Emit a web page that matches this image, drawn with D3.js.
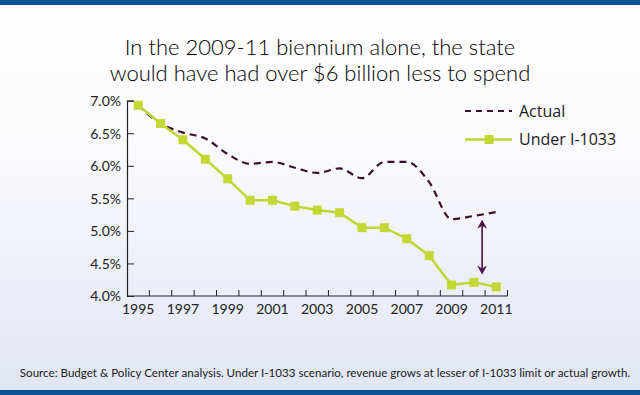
<!DOCTYPE html>
<html>
<head>
<meta charset="utf-8">
<script src="https://cdn.jsdelivr.net/npm/d3@7"></script>
<style>
  html, body { margin: 0; padding: 0; }
  body { width: 640px; height: 395px; overflow: hidden; }
</style>
</head>
<body>
<div id="vis-container"></div>
<script>
// revenue as share of personal income, 1995-2011
let years = d3.range(1995, 2012);
let actual = [6.93, 6.65, 6.51, 6.42, 6.18, 6.03, 6.06, 5.97, 5.89, 5.96, 5.81, 6.06, 6.06, 5.75, 5.18, 5.23, 5.29];
let underI1033 = [6.93, 6.65, 6.40, 6.10, 5.80, 5.47, 5.47, 5.38, 5.32, 5.28, 5.05, 5.05, 4.88, 4.62, 4.17, 4.21, 4.14];
let yTicks = [4.0, 4.5, 5.0, 5.5, 6.0, 6.5, 7.0];
let xLabels = [1995, 1997, 1999, 2001, 2003, 2005, 2007, 2009, 2011];
let gapArrow = [5.17, 4.33];   // the 2009-11 gap marker

let width = 640;
let height = 395;

let svg = d3.select("#vis-container")
  .append("svg")
  .attr("width", width)
  .attr("height", height);

// background
let defs = svg.append("defs");
let grad = defs.append("linearGradient")
  .attr("id", "bg")
  .attr("x1", 0).attr("y1", 0).attr("x2", 0).attr("y2", 1);
grad.append("stop").attr("offset", "0%").attr("stop-color", "#ffffff");
grad.append("stop").attr("offset", "35%").attr("stop-color", "#fbfbfd");
grad.append("stop").attr("offset", "100%").attr("stop-color", "#e1e5f3");

svg.append("rect").attr("width", width).attr("height", height).attr("fill", "url(#bg)");
svg.append("rect").attr("width", width).attr("height", 5).attr("fill", "#0b5394");
svg.append("rect").attr("y", 390).attr("width", width).attr("height", 5).attr("fill", "#0b5394");

// title
let title = svg.append("text")
  .attr("text-anchor", "middle")
  .attr("font-family", "Lato, sans-serif")
  .attr("font-weight", 300)
  .attr("font-size", 22)
  .attr("fill", "#000");
title.append("tspan").attr("x", 320).attr("y", 55).text("In the 2009-11 biennium alone, the state");
title.append("tspan").attr("x", 320).attr("y", 81).text("would have had over $6 billion less to spend");

// scales
let x = d3.scaleBand()
  .domain(years)
  .range([127, 507.5]);

let y = d3.scaleLinear()
  .domain([4.0, 7.0])
  .range([296, 100.7]);

let cx = d => x(d) + x.bandwidth() / 2;

// y axis
let yAxis = d3.axisLeft(y)
  .tickValues(yTicks)
  .tickSize(-7)
  .tickPadding(6)
  .tickFormat(d => d.toFixed(1) + "%");

let gy = svg.append("g")
  .attr("transform", "translate(127,0)")
  .call(yAxis);
gy.select(".domain").attr("stroke", "#222").attr("stroke-width", 1.2);
gy.selectAll(".tick line").attr("stroke", "#222");
gy.selectAll(".tick text")
  .attr("font-family", "Lato, sans-serif")
  .attr("font-size", 14)
  .attr("fill", "#222")
  .attr("x", -6)
  .attr("dy", "0.35em");

// x axis: ticks on band edges, labels on odd years
let xAxisLine = svg.append("g");
xAxisLine.append("line")
  .attr("x1", 127).attr("x2", 507.5)
  .attr("y1", 296).attr("y2", 296)
  .attr("stroke", "#222").attr("stroke-width", 1.2);
xAxisLine.selectAll("line.tk")
  .data(years.slice(1).concat([2012]))
  .enter()
  .append("line")
  .attr("class", "tk")
  .attr("x1", d => d === 2012 ? 507.5 : x(d))
  .attr("x2", d => d === 2012 ? 507.5 : x(d))
  .attr("y1", 296).attr("y2", 290)
  .attr("stroke", "#222");
xAxisLine.selectAll("text")
  .data(xLabels)
  .enter()
  .append("text")
  .attr("x", d => cx(d))
  .attr("y", 314)
  .attr("text-anchor", "middle")
  .attr("font-family", "Lato, sans-serif")
  .attr("font-size", 14)
  .attr("fill", "#222")
  .text(d => d);

// lines
let actualLine = d3.line()
  .x((d, i) => cx(years[i]))
  .y(d => y(d))
  .curve(d3.curveMonotoneX);

let i1033Line = d3.line()
  .x((d, i) => cx(years[i]))
  .y(d => y(d));

svg.append("path")
  .datum(actual)
  .attr("d", actualLine)
  .attr("fill", "none")
  .attr("stroke", "#3b0f30")
  .attr("stroke-width", 2.2)
  .attr("stroke-dasharray", "7,5");

svg.append("path")
  .datum(underI1033)
  .attr("d", i1033Line)
  .attr("fill", "none")
  .attr("stroke", "#bfd630")
  .attr("stroke-width", 2.5);

svg.selectAll("rect.pt")
  .data(underI1033)
  .enter()
  .append("rect")
  .attr("class", "pt")
  .attr("x", (d, i) => cx(years[i]) - 4.5)
  .attr("y", d => y(d) - 4.5)
  .attr("width", 9)
  .attr("height", 9)
  .attr("fill", "#c3d735");

// double arrow marking the gap
let ax = (cx(2010) + cx(2011)) / 2 - 3;
let arrowColor = "#4a1043";
svg.append("line")
  .attr("x1", ax).attr("x2", ax)
  .attr("y1", y(gapArrow[0]) + 6).attr("y2", y(gapArrow[1]) - 6)
  .attr("stroke", arrowColor).attr("stroke-width", 1.6);
let ya = y(gapArrow[0]), yb = y(gapArrow[1]);
svg.append("path")
  .attr("d", `M${ax},${ya} L${ax - 5},${ya + 9} L${ax},${ya + 6} L${ax + 5},${ya + 9} Z`)
  .attr("fill", arrowColor);
svg.append("path")
  .attr("d", `M${ax},${yb} L${ax - 5},${yb - 9} L${ax},${yb - 6} L${ax + 5},${yb - 9} Z`)
  .attr("fill", arrowColor);

// legend
let legend = svg.append("g");
legend.append("line")
  .attr("x1", 465).attr("x2", 512)
  .attr("y1", 111).attr("y2", 111)
  .attr("stroke", "#3b0f30").attr("stroke-width", 2.2)
  .attr("stroke-dasharray", "6,5");
legend.append("text")
  .attr("x", 519).attr("y", 111).attr("dy", "0.35em")
  .attr("font-family", "'Open Sans', sans-serif")
  .attr("font-size", 16)
  .attr("fill", "#222")
  .text("Actual");
legend.append("line")
  .attr("x1", 465).attr("x2", 512)
  .attr("y1", 139.5).attr("y2", 139.5)
  .attr("stroke", "#bfd630").attr("stroke-width", 2.5);
legend.append("rect")
  .attr("x", 484.5).attr("y", 135).attr("width", 9).attr("height", 9)
  .attr("fill", "#c3d735");
legend.append("text")
  .attr("x", 519).attr("y", 139.5).attr("dy", "0.35em")
  .attr("font-family", "'Open Sans', sans-serif")
  .attr("font-size", 16)
  .attr("fill", "#222")
  .text("Under I-1033");

// source note
svg.append("text")
  .attr("x", 325).attr("y", 377)
  .attr("text-anchor", "middle")
  .attr("font-family", "Lato, sans-serif")
  .attr("font-size", 11.6)
  .attr("fill", "#222")
  .text("Source: Budget & Policy Center analysis. Under I-1033 scenario, revenue grows at lesser of I-1033 limit or actual growth.");
</script>
</body>
</html>
